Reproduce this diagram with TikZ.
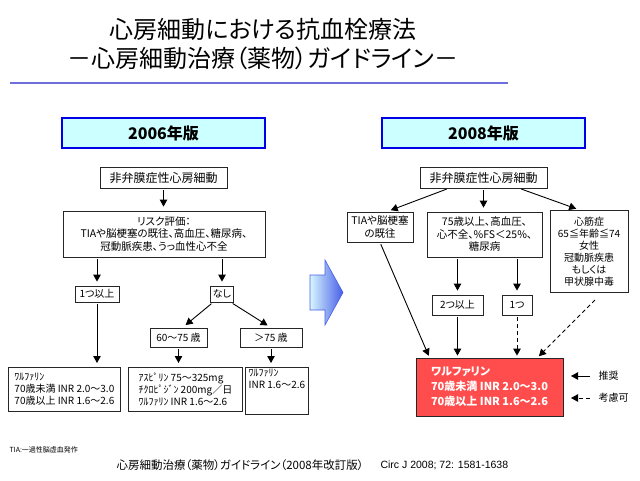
\documentclass[tikz,border=0pt]{standalone}
\usepackage{fontspec}
\setmainfont{Noto Sans CJK JP}[RawFeature=+palt]
\newfontfamily\latinfont{Liberation Sans}
\usetikzlibrary{arrows.meta}
\definecolor{headfill}{RGB}{204,255,255}
\definecolor{headline}{RGB}{0,0,230}
\definecolor{rulecol}{RGB}{110,110,220}
\definecolor{warfill}{RGB}{255,77,77}
\definecolor{arrowlight}{RGB}{215,245,255}
\definecolor{arrowdark}{RGB}{70,95,230}

\begin{document}
\begin{tikzpicture}[
	x=1pt,
	y=-1pt,
	header/.style={
		rectangle,
		draw=headline,
		line width=1.6pt,
		fill=headfill,
		align=center,
		font=\fontsize{16}{18}\selectfont\bfseries,
		minimum height=30pt,
		minimum width=203pt
	},
	box/.style={
		rectangle,
		draw=black!85,
		line width=0.8pt,
		align=center,
		inner sep=2pt,
		font=\fontsize{10.5}{12.5}\selectfont
	},
	smallbox/.style={
		box,
		font=\fontsize{10}{12}\selectfont
	},
	drugbox/.style={
		box,
		align=left,
		anchor=north west,
		font=\fontsize{10}{11.8}\selectfont
	},
	warbox/.style={
		rectangle,
		draw=black!85,
		line width=0.8pt,
		fill=warfill,
		text=white,
		align=left,
		font=\fontsize{11}{15}\selectfont\bfseries,
		minimum height=58pt,
		minimum width=147pt
	},
	arr/.style={
		line width=0.9pt,
		-{Triangle[length=7pt,width=7.5pt]},
		shorten >=4pt,
		shorten <=2pt
	},
	dasharr/.style={
		arr,
		dash pattern=on 4pt off 3pt
	},
]

\useasboundingbox (0,0) rectangle (640,480);

% Title
\node[align=center, font=\fontsize{24}{29}\selectfont] (title) at (263,44.5)
{心房細動における抗血栓療法\\－心房細動治療（薬物）ガイドライン－};
\draw[rulecol, line width=2pt] (10,83) -- (508,83);

% 2006
\node[header] (hdA) at (163.5,133) {2006年版};
\node[box, font=\fontsize{12}{14}\selectfont, minimum height=21pt, minimum width=127pt]
(afA) at (163.5,177.5) {非弁膜症性心房細動};
\node[box, minimum height=46pt, minimum width=202pt] (riskA) at (164,234)
{リスク評価：\\TIAや脳梗塞の既往、高血圧、糖尿病、\\冠動脈疾患、うっ血性心不全};
\node[smallbox, minimum height=16pt, minimum width=44pt] (oneA) at (97,294) {1つ以上};
\node[smallbox, minimum height=16pt, minimum width=23pt] (noneA) at (222,294) {なし};
\node[smallbox, minimum height=19pt, minimum width=57pt] (ageA) at (178.5,337.5) {60〜75 歳};
\node[smallbox, minimum height=19pt, minimum width=62pt] (ageB) at (271,337.5) {＞75 歳};

\node[drugbox, minimum height=44pt, minimum width=112pt] (wfA) at (8,367)
{ﾜﾙﾌｧﾘﾝ\\70歳未満 INR 2.0〜3.0\\70歳以上 INR 1.6〜2.6};
\node[drugbox, minimum height=44pt, minimum width=114pt] (aspA) at (128,367)
{ｱｽﾋﾟﾘﾝ 75〜325mg\\ﾁｸﾛﾋﾟｼﾞﾝ 200mg／日\\ﾜﾙﾌｧﾘﾝ INR 1.6〜2.6};
\node[drugbox, minimum height=41pt, minimum width=63pt, anchor=north west] (wfB) at (245,367)
{ﾜﾙﾌｧﾘﾝ\\INR 1.6〜2.6\\[11.8pt]};

\draw[arr] (afA.south) -- (afA.south |- riskA.north);
\draw[arr] (riskA.south -| oneA) -- (oneA.north);
\draw[arr] (riskA.south -| noneA) -- (noneA.north);
\draw[arr] ([xshift=-9pt]noneA.south) -- ([xshift=4pt]ageA.north);
\draw[arr] ([xshift=9pt]noneA.south) -- (ageB.north);
\draw[arr] (oneA.south) -- (oneA.south |- wfA.north);
\draw[arr] (ageA.south) -- (ageA.south |- aspA.north);
\draw[arr] (ageB.south) -- (ageB.south |- wfB.north);

% Arrow between
\draw[draw=arrowdark, line width=0.6pt, left color=arrowlight, right color=arrowdark]
(310,275) -- (325,275) -- (325,260) -- (343,292.5) -- (325,325) -- (325,310) -- (310,310) -- cycle;

% 2008
\node[header] (hdB) at (483.5,133) {2008年版};
\node[box, font=\fontsize{12}{14}\selectfont, minimum height=21pt, minimum width=127pt]
(afB) at (483.5,177.5) {非弁膜症性心房細動};
\node[box, minimum height=30pt, minimum width=66pt] (tiaB) at (380,227)
{TIAや脳梗塞\\の既往};
\node[box, minimum height=45pt, minimum width=115pt] (riskB) at (484.5,234.5)
{75歳以上、高血圧、\\心不全、\%FS＜25\%、\\糖尿病};
\node[box, font=\fontsize{10}{12}\selectfont, minimum height=82pt, minimum width=78pt]
(cmB) at (589,251.5) {心筋症\\65≦年齢≦74\\女性\\冠動脈疾患\\もしくは\\甲状腺中毒};
\node[smallbox, minimum height=20pt, minimum width=51pt] (twoB) at (457.5,305) {2つ以上};
\node[smallbox, minimum height=20pt, minimum width=30pt] (oneB) at (517,305) {1つ};
\node[warbox] (wfC) at (489.5,387)
{ワルファリン\\70歳未満 INR 2.0〜3.0\\70歳以上 INR 1.6〜2.6};

\draw[arr] ([xshift=-35pt]afB.south) -- ([xshift=7pt]tiaB.north);
\draw[arr] (afB.south) -- (afB.south |- riskB.north);
\draw[arr] ([xshift=36pt]afB.south) -- ([xshift=-9pt]cmB.north);
\draw[arr] (riskB.south -| twoB) -- (twoB.north);
\draw[arr] (riskB.south -| oneB) -- (oneB.north);
\draw[arr, shorten >=2pt] (tiaB.south) -- ([xshift=-60pt]wfC.north);
\draw[arr, shorten >=2pt] (twoB.south) -- (twoB.south |- wfC.north);
\draw[dasharr, shorten >=2pt] (oneB.south) -- (oneB.south |- wfC.north);
\draw[dasharr, shorten >=2pt, shorten <=10pt] ([xshift=13pt]cmB.south) -- ([xshift=48pt]wfC.north);

% Legend
\node[anchor=west, font=\fontsize{10}{12}\selectfont] (rec) at (595,376) {推奨};
\node[anchor=west, font=\fontsize{10}{12}\selectfont] (opt) at (595,398) {考慮可};
\coordinate (recs) at (590,376);
\coordinate (rece) at (571,376);
\coordinate (opts) at (590,398);
\coordinate (opte) at (571,398);
\draw[arr, shorten >=0pt, shorten <=0pt] (recs) -- (rece);
\draw[dasharr, shorten >=0pt, shorten <=0pt] (opts) -- (opte);

% Footer
\node[anchor=west, font=\fontsize{7}{8}\selectfont] (note) at (6,450) {TIA:一過性脳虚血発作};
\node[anchor=west, font=\fontsize{11.5}{13}\selectfont] (src) at (113,465)
{心房細動治療（薬物）ガイドライン（2008年改訂版）};
\node[anchor=west, font=\fontsize{10.5}{13}\latinfont] (ref) at (377,465)
{Circ J 2008; 72: 1581-1638};

\end{tikzpicture}
\end{document}
